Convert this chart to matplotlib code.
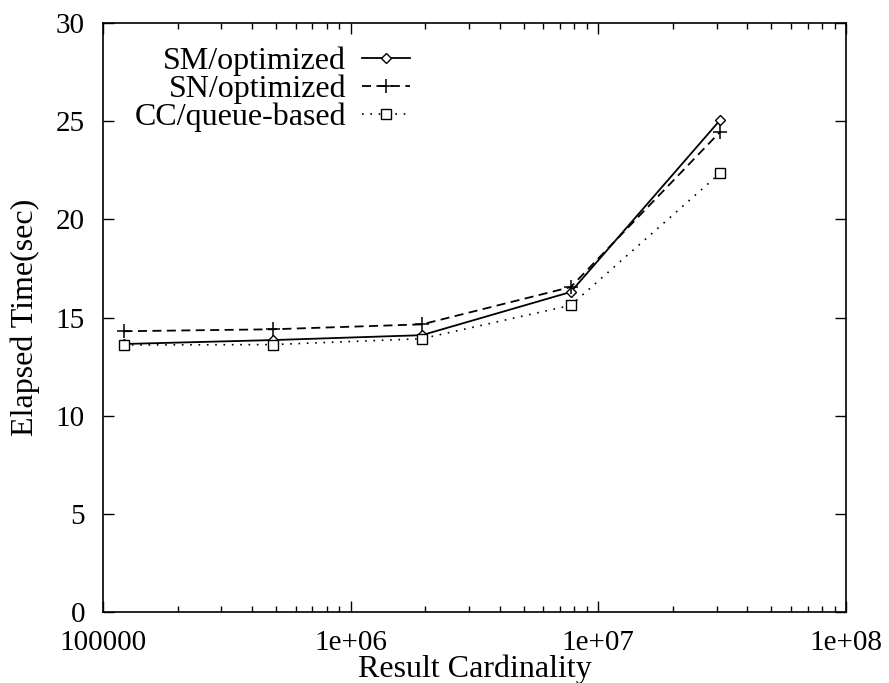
import matplotlib
matplotlib.use("Agg")
import matplotlib.pyplot as plt
from matplotlib.ticker import FixedLocator, FixedFormatter, LogLocator, NullFormatter

# Result cardinality (x) and elapsed time in seconds (y)
cardinality = [1.21e5, 4.84e5, 1.94e6, 7.74e6, 3.1e7]
sm_optimized = [13.65, 13.85, 14.1, 16.3, 25.05]
sn_optimized = [14.3, 14.4, 14.65, 16.55, 24.45]
cc_queue = [13.6, 13.62, 13.92, 15.62, 22.35]

x_ticks = [1e5, 1e6, 1e7, 1e8]
x_tick_labels = ["100000", "1e+06", "1e+07", "1e+08"]
y_ticks = [0, 5, 10, 15, 20, 25, 30]

TICK_FS = 21
TEXT_FS = 23
plt.rcParams["font.family"] = ["Liberation Serif", "DejaVu Serif"]
plt.rcParams["font.size"] = TEXT_FS

fig = plt.figure(figsize=(8.89, 6.83), dpi=100)
L, R, T, B = 103, 846, 23, 612
W, H = 889, 683
ax = fig.add_axes([L / W, 1 - B / H, (R - L) / W, (B - T) / H])

ax.plot(cardinality, sm_optimized, color="black", lw=1.3, ls="-",
        marker="D", ms=5, mfc="white", mec="black", mew=1.0,
        label="SM/optimized")
ax.plot(cardinality, sn_optimized, color="black", lw=1.3, ls=(0, (5, 3)),
        marker="+", ms=10, mew=1.1, label="SN/optimized")
ax.plot(cardinality, cc_queue, color="black", lw=1.2, ls=(0, (1, 4)),
        marker="s", ms=7, mfc="white", mec="black", mew=1.0,
        label="CC/queue-based")

ax.set_xscale("log")
ax.set_xlim(1e5, 1e8)
ax.set_ylim(0, 30)
ax.xaxis.set_major_locator(FixedLocator(x_ticks))
ax.xaxis.set_major_formatter(FixedFormatter(x_tick_labels))
ax.xaxis.set_minor_locator(LogLocator(base=10, subs=range(2, 10)))
ax.xaxis.set_minor_formatter(NullFormatter())
ax.set_yticks(y_ticks)

ax.tick_params(which="both", direction="in", top=True, right=True, width=1.0)
ax.tick_params(which="major", length=8, labelsize=TICK_FS)
ax.tick_params(axis="y", which="major", pad=13)
ax.tick_params(axis="x", which="major", pad=13)
ax.tick_params(which="minor", length=4)
for side in ax.spines.values():
    side.set_linewidth(1.2)

ax.set_xlabel("Result Cardinality", fontsize=TEXT_FS, labelpad=-1)
ax.set_ylabel("Elapsed Time(sec)", fontsize=TEXT_FS)
ax.yaxis.set_label_coords(-(L - 40) / (R - L), 0.5)

ax.legend(loc="upper right", bbox_to_anchor=((410 - L) / (R - L), (B - 47) / (B - T)),
          frameon=False, markerfirst=False, fontsize=TEXT_FS, handlelength=1.5,
          handletextpad=0.5, labelspacing=-0.05, borderpad=0.0, borderaxespad=0.0)

fig.savefig("out.png", dpi=100)
